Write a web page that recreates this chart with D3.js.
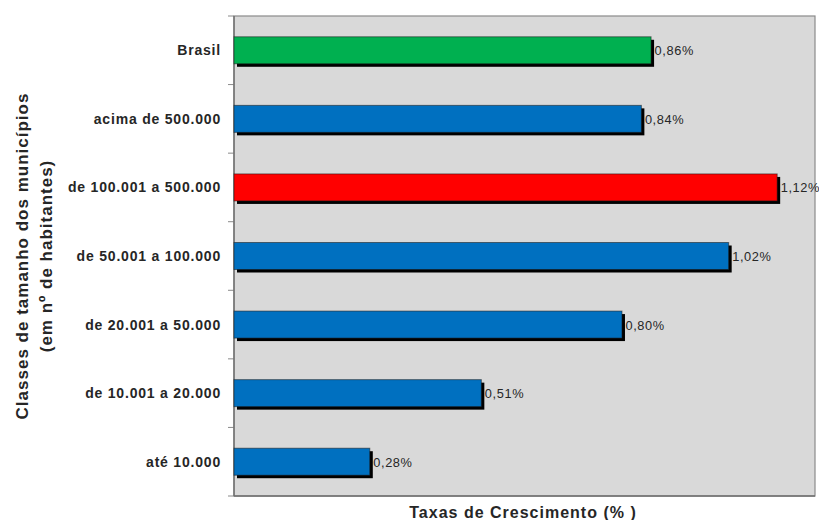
<!DOCTYPE html>
<html>
<head>
<meta charset="utf-8">
<script src="https://cdn.jsdelivr.net/npm/d3@7"></script>
<style>
  html, body { margin: 0; padding: 0; background: #ffffff; }
  svg { display: block; }
  text { font-family: "Liberation Sans", Arial, sans-serif; fill: #262626; }
</style>
</head>
<body>
<svg id="chart" width="819" height="520"></svg>
<script>
// Growth rate by municipality size class (% per year)
const categories = [
  "Brasil",
  "acima de 500.000",
  "de 100.001 a 500.000",
  "de 50.001 a 100.000",
  "de 20.001 a 50.000",
  "de 10.001 a 20.000",
  "até 10.000"
];
const values = [0.86, 0.84, 1.12, 1.02, 0.80, 0.51, 0.28];
const valueLabels = ["0,86%", "0,84%", "1,12%", "1,02%", "0,80%", "0,51%", "0,28%"];
const barColors = ["#00b050", "#0070c0", "#ff0000", "#0070c0", "#0070c0", "#0070c0", "#0070c0"];
const yTitleLines = ["Classes de tamanho dos municípios", "(em nº de habitantes)"];
const xTitle = "Taxas de Crescimento (% )";

const svg = d3.select("#chart");
const margin = { left: 234, top: 16, right: 4, bottom: 24 };
const width = 819 - margin.left - margin.right;
const height = 520 - margin.top - margin.bottom;

const g = svg.append("g").attr("transform", `translate(${margin.left},${margin.top})`);

const x = d3.scaleLinear().domain([0, 1.198]).range([0, width]);
const band = d3.scaleBand().domain(categories).range([0, height]);

// plot background
g.append("rect")
  .attr("x", 0).attr("y", 0)
  .attr("width", width).attr("height", height)
  .attr("fill", "#d9d9d9")
  .attr("stroke", "#8a8a8a")
  .attr("stroke-width", 1.2);

// category boundary ticks on the left axis
const tickYs = d3.range(categories.length + 1).map(i => i * band.step());
g.selectAll("line.tick")
  .data(tickYs)
  .enter().append("line")
  .attr("class", "tick")
  .attr("x1", -6).attr("x2", 0)
  .attr("y1", d => d).attr("y2", d => d)
  .attr("stroke", "#8a8a8a")
  .attr("stroke-width", 1);

// left and bottom axis lines
g.append("line")
  .attr("x1", 0).attr("x2", 0)
  .attr("y1", 0).attr("y2", height)
  .attr("stroke", "#6f6f6f").attr("stroke-width", 1.4);
g.append("line")
  .attr("x1", 0).attr("x2", width)
  .attr("y1", height).attr("y2", height)
  .attr("stroke", "#6f6f6f").attr("stroke-width", 1.4);

const barH = 27;
const barY = d => band(d) + band.step() / 2 - barH / 2;

// drop shadows
g.selectAll("rect.shadow")
  .data(categories)
  .enter().append("rect")
  .attr("class", "shadow")
  .attr("x", 3)
  .attr("y", d => barY(d) + 3)
  .attr("width", (d, i) => x(values[i]))
  .attr("height", barH)
  .attr("fill", "#000");

// bars
g.selectAll("rect.bar")
  .data(categories)
  .enter().append("rect")
  .attr("class", "bar")
  .attr("x", 0)
  .attr("y", d => barY(d))
  .attr("width", (d, i) => x(values[i]))
  .attr("height", barH)
  .attr("fill", (d, i) => barColors[i])
  .attr("stroke", "#1a1a1a")
  .attr("stroke-opacity", 0.55)
  .attr("stroke-width", 1);

// value labels
g.selectAll("text.val")
  .data(categories)
  .enter().append("text")
  .attr("class", "val")
  .attr("x", (d, i) => x(values[i]) + 3.5)
  .attr("y", d => band(d) + band.step() / 2 + 5)
  .attr("font-size", 12.8)
  .attr("letter-spacing", 0.6)
  .text((d, i) => valueLabels[i]);

// category labels
g.selectAll("text.cat")
  .data(categories)
  .enter().append("text")
  .attr("class", "cat")
  .attr("x", -13)
  .attr("y", d => band(d) + band.step() / 2 + 5)
  .attr("text-anchor", "end")
  .attr("font-size", 14)
  .attr("font-weight", "bold")
  .attr("letter-spacing", 0.8)
  .text(d => d);

// y axis title (two lines)
const yTitle = svg.append("text")
  .attr("transform", "translate(0,256) rotate(-90)")
  .attr("text-anchor", "middle")
  .attr("font-size", 17)
  .attr("font-weight", "bold")
  .attr("letter-spacing", 1);
yTitle.selectAll("tspan")
  .data(yTitleLines)
  .enter().append("tspan")
  .attr("x", 0)
  .attr("y", (d, i) => 28 + i * 24)
  .text(d => d);

// x axis title
svg.append("text")
  .attr("x", 523)
  .attr("y", 518)
  .attr("text-anchor", "middle")
  .attr("font-size", 16)
  .attr("font-weight", "bold")
  .attr("letter-spacing", 1)
  .text(xTitle);
</script>
</body>
</html>
